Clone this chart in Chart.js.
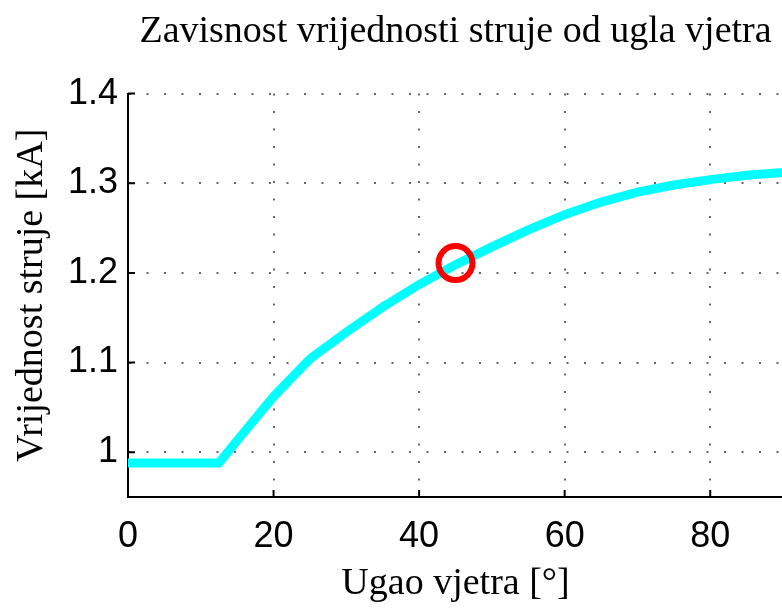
<!DOCTYPE html>
<html>
<head>
<meta charset="utf-8">
<script src="https://cdn.jsdelivr.net/npm/chart.js@4"></script>
<style>
  html, body { margin: 0; padding: 0; background: #fff; overflow: hidden; }
  #wrap { width: 806px; height: 609px; position: relative; }
</style>
</head>
<body>
<div id="wrap"><canvas id="chart"></canvas></div>
<script>
// wind angle [deg] vs current [kA]
const angles  = [0, 5, 10, 12.5, 15, 20, 25, 30, 35, 40, 45, 50, 55, 60, 65, 70, 75, 80, 85, 90];
const current = [0.988, 0.988, 0.988, 0.988, 1.013, 1.062, 1.104, 1.134, 1.162, 1.187, 1.209,
                 1.229, 1.248, 1.265, 1.279, 1.290, 1.298, 1.304, 1.309, 1.312];

// highlighted operating point
const markAngle = [45];
const markCurrent = [1.211];

const xTicks = [0, 20, 40, 60, 80];
const yTicks = [1, 1.1, 1.2, 1.3, 1.4];

const serif = 'Liberation Serif';
const sans = 'Liberation Sans';

// MATLAB style inward tick marks
const inwardTicks = {
  id: 'inwardTicks',
  afterDatasetsDraw(chart) {
    const { ctx, chartArea, scales } = chart;
    ctx.save();
    ctx.strokeStyle = '#000';
    ctx.lineWidth = 2;
    ctx.beginPath();
    yTicks.forEach(v => {
      const y = scales.y.getPixelForValue(v);
      ctx.moveTo(chartArea.left, y);
      ctx.lineTo(chartArea.left + 7, y);
    });
    xTicks.forEach(v => {
      const x = scales.x.getPixelForValue(v);
      ctx.moveTo(x, chartArea.bottom);
      ctx.lineTo(x, chartArea.bottom - 7);
    });
    ctx.stroke();
    ctx.restore();
  }
};

const gridOpts = {
  color: '#666',
  lineWidth: 2,
  drawTicks: false
};

// dotted grid lines (MATLAB ':' style), solid axis line
const borderOpts = { color: '#000', width: 2, dash: [2, 15.5] };

new Chart(document.getElementById('chart'), {
  type: 'line',
  data: {
    datasets: [
      {
        data: markAngle.map((a, i) => ({ x: a, y: markCurrent[i] })),
        showLine: false,
        pointRadius: 17,
        pointBorderWidth: 6,
        pointBorderColor: '#ff0000',
        pointBackgroundColor: 'rgba(0,0,0,0)',
        order: 0
      },
      {
        data: angles.map((a, i) => ({ x: a, y: current[i] })),
        borderColor: '#00ffff',
        borderWidth: 9,
        pointRadius: 0,
        tension: 0,
        fill: false,
        order: 1
      }
    ]
  },
  options: {
    responsive: true,
    maintainAspectRatio: false,
    animation: false,
    layout: { padding: 0 },
    plugins: {
      legend: { display: false },
      tooltip: { enabled: false },
      title: {
        display: true,
        fullSize: false,
        text: 'Zavisnost vrijednosti struje od ugla vjetra',
        color: '#000',
        font: { family: serif, size: 38, weight: 'normal' },
        padding: { top: 9, bottom: 39 }
      }
    },
    scales: {
      x: {
        type: 'linear',
        min: 0,
        max: 90,
        afterFit: s => { s.height = 112; },
        afterBuildTicks: s => { s.ticks = xTicks.map(v => ({ value: v })); },
        grid: gridOpts,
        border: borderOpts,
        ticks: {
          color: '#000',
          padding: 18,
          maxRotation: 0,
          font: { family: sans, size: 36 },
          callback: v => String(v)
        },
        title: {
          display: true,
          text: 'Ugao vjetra [°]',
          color: '#000',
          font: { family: serif, size: 38 },
          padding: { top: 0, bottom: 2 }
        }
      },
      y: {
        type: 'linear',
        min: 0.95,
        max: 1.4,
        afterFit: s => { s.width = 128; },
        afterBuildTicks: s => { s.ticks = yTicks.map(v => ({ value: v })); },
        grid: gridOpts,
        border: borderOpts,
        ticks: {
          color: '#000',
          padding: 10,
          font: { family: sans, size: 36 },
          callback: v => String(+v.toFixed(2))
        },
        title: {
          display: true,
          text: 'Vrijednost struje [kA]',
          color: '#000',
          font: { family: serif, size: 38 },
          padding: { top: 9, bottom: 0 }
        }
      }
    }
  },
  plugins: [inwardTicks]
});
</script>
</body>
</html>
